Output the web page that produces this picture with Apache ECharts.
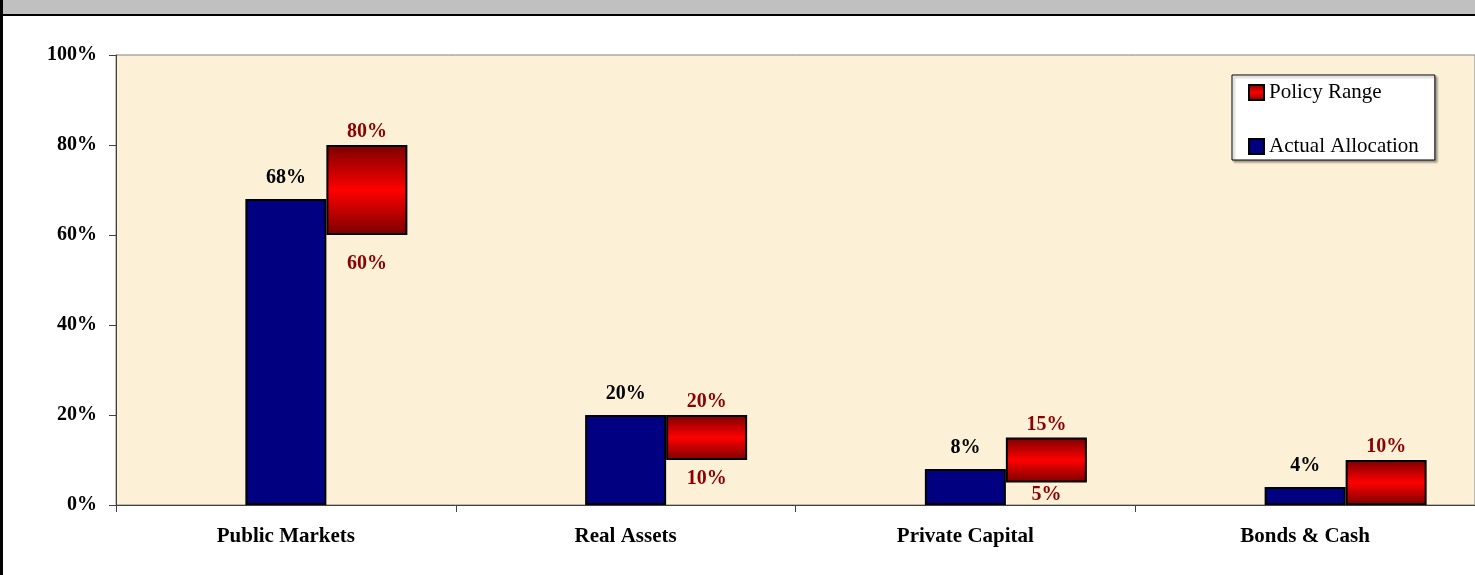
<!DOCTYPE html>
<html>
<head>
<meta charset="utf-8">
<script src="https://cdn.jsdelivr.net/npm/echarts@6/dist/echarts.min.js"></script>
<style>
html,body{margin:0;padding:0;background:#fff;}
#chart{width:1475px;height:575px;}
</style>
</head>
<body>
<div id="chart"></div>
<script>
const categories = ['Public Markets', 'Real Assets', 'Private Capital', 'Bonds & Cash'];
const actualAllocation = [68, 20, 8, 4];
const policyMin = [60, 10, 5, 0];
const policyMax = [80, 20, 15, 10];
const yTicks = [0, 20, 40, 60, 80, 100];

const FONT = '"Liberation Serif", "Times New Roman", serif';
const redGrad = new echarts.graphic.LinearGradient(0, 0, 0, 1, [
  {offset: 0, color: '#7a0000'},
  {offset: 0.5, color: '#ff0000'},
  {offset: 1, color: '#7a0000'}
]);

const chart = echarts.init(document.getElementById('chart'), null, {renderer: 'canvas'});

const baseData = policyMin.map(v => ({
  value: v,
  label: {distance: Math.max(2, Math.min(19, (v - 5) * 1.4 + 2))}
}));
const rangeData = policyMax.map((v, i) => v - policyMin[i]);

chart.setOption({
  animation: false,
  backgroundColor: '#ffffff',
  graphic: [
    {type: 'rect', left: 0, top: 0, shape: {width: 1475, height: 14}, style: {fill: '#c0c0c0'}, z: 100},
    {type: 'rect', left: 0, top: 14, shape: {width: 1475, height: 2}, style: {fill: '#000000'}, z: 100},
    {type: 'rect', left: 0, top: 0, shape: {width: 3, height: 575}, style: {fill: '#000000'}, z: 100}
  ],
  grid: {
    left: 116, top: 55, right: -1, bottom: 70,
    show: true, backgroundColor: '#fcf0d7', borderColor: '#808080', borderWidth: 1
  },
  legend: {
    left: 1232, top: 75, orient: 'vertical',
    backgroundColor: '#ffffff', borderColor: '#000000', borderWidth: 1,
    padding: [7, 16, 3, 16], itemGap: 33, itemWidth: 15, itemHeight: 15,
    shadowColor: 'rgba(0,0,0,0.35)', shadowOffsetX: 2, shadowOffsetY: 2, shadowBlur: 2,
    textStyle: {fontFamily: FONT, fontSize: 21, color: '#000'},
    data: [
      {name: 'Policy Range', icon: 'rect', itemStyle: {color: redGrad, borderColor: '#000', borderWidth: 2}},
      {name: 'Actual Allocation', icon: 'rect', itemStyle: {color: '#000080', borderColor: '#000', borderWidth: 2}}
    ]
  },
  xAxis: {
    type: 'category',
    data: categories,
    axisLine: {lineStyle: {color: '#404040', width: 1}},
    axisTick: {show: true, length: 7, lineStyle: {color: '#404040'}},
    axisLabel: {fontFamily: FONT, fontSize: 21, fontWeight: 'bold', color: '#000', margin: 21}
  },
  yAxis: {
    type: 'value', min: 0, max: 100, interval: 20,
    axisLine: {show: true, lineStyle: {color: '#404040', width: 1}},
    axisTick: {show: true, length: 7, lineStyle: {color: '#404040'}},
    splitLine: {show: false},
    axisLabel: {fontFamily: FONT, fontSize: 20, fontWeight: 'bold', color: '#000', margin: 19,
      formatter: v => v + '%'}
  },
  series: [
    {
      name: 'spacer', type: 'bar', barWidth: 81, barGap: '0%',
      data: categories.map(() => 0),
      itemStyle: {color: 'transparent', borderWidth: 0}, silent: true
    },
    {
      name: 'Actual Allocation', type: 'bar', barWidth: 81, barGap: '0%',
      data: actualAllocation,
      itemStyle: {color: '#000080', borderColor: '#000', borderWidth: 2},
      label: {show: true, position: 'top', distance: 11, fontFamily: FONT, fontSize: 20,
        fontWeight: 'bold', color: '#000', formatter: p => p.value + '%'}
    },
    {
      name: 'base', type: 'bar', stack: 'policy', barWidth: 81, barGap: '0%',
      data: baseData,
      itemStyle: {color: 'transparent', borderWidth: 0}, silent: true,
      label: {show: true, position: 'insideTop', fontFamily: FONT, fontSize: 20,
        fontWeight: 'bold', color: '#8b0000', formatter: p => p.value > 0 ? p.value + '%' : ''}
    },
    {
      name: 'Policy Range', type: 'bar', stack: 'policy', barWidth: 81, barGap: '0%',
      data: rangeData,
      itemStyle: {color: redGrad, borderColor: '#000', borderWidth: 2},
      label: {show: true, position: 'top', distance: 3, fontFamily: FONT, fontSize: 20,
        fontWeight: 'bold', color: '#8b0000', formatter: p => policyMax[p.dataIndex] + '%'}
    }
  ]
});
</script>
</body>
</html>
